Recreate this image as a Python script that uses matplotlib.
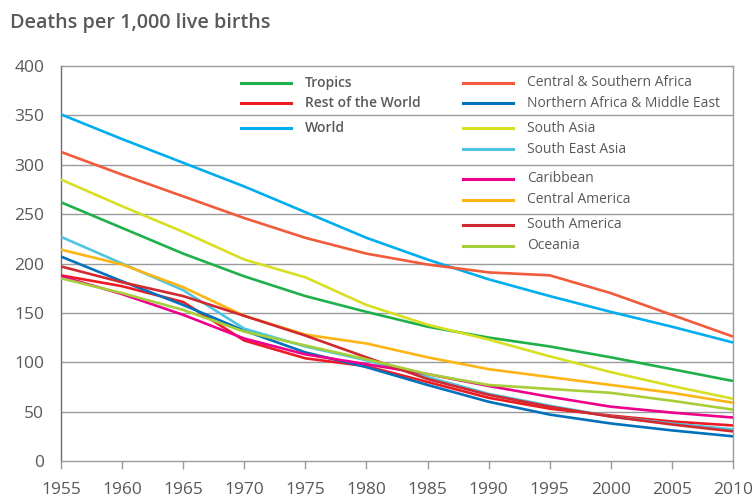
import numpy as np
import matplotlib.pyplot as plt
from matplotlib.lines import Line2D

# 5-year points (deaths per 1,000 live births)
years = [1955, 1960, 1965, 1970, 1975, 1980, 1985, 1990, 1995, 2000, 2005, 2010]

tropics = [262, 236, 210, 187, 167, 151, 136, 125, 116, 105, 93, 81]
rest_of_world = [188, 177, 161, 122, 104, 96, 80, 64, 53, 46, 40, 36]
world = [351, 326, 302, 278, 252, 226, 204, 184, 167, 151, 136, 120]
cs_africa = [313, 290, 268, 246, 226, 210, 199, 191, 188, 170, 148, 126]
na_middle_east = [207, 182, 158, 132, 110, 95, 77, 60, 47, 38, 31, 25]
south_asia = [285, 258, 232, 204, 186, 158, 138, 123, 106, 90, 76, 63]
south_east_asia = [227, 200, 173, 134, 116, 102, 85, 68, 56, 45, 38, 32]
caribbean = [187, 169, 148, 124, 108, 98, 88, 76, 65, 55, 49, 44]
central_america = [214, 199, 176, 147, 128, 119, 105, 93, 85, 77, 69, 59]
south_america = [197, 181, 167, 147, 127, 105, 83, 67, 55, 45, 37, 30]
oceania = [185, 170, 153, 131, 117, 103, 88, 77, 73, 69, 61, 52]

series = [
    ("Tropics", tropics, "#1fb04b", True),
    ("Rest of the World", rest_of_world, "#ed1c24", True),
    ("World", world, "#00aeef", True),
    ("Central & Southern Africa", cs_africa, "#f15a3a", False),
    ("Northern Africa & Middle East", na_middle_east, "#0072bc", False),
    ("South Asia", south_asia, "#d7df23", False),
    ("South East Asia", south_east_asia, "#4ec4e0", False),
    ("Caribbean", caribbean, "#ec008c", False),
    ("Central America", central_america, "#fdb515", False),
    ("South America", south_america, "#d02a30", False),
    ("Oceania", oceania, "#a6ce39", False),
]

text_col = "#58595b"
grid_col = "#9a9a9a"

plt.rcParams["font.family"] = ["Open Sans", "DejaVu Sans"]

W, H = 755, 497
fig = plt.figure(figsize=(W / 100, H / 100), dpi=100)
ax = fig.add_axes([61 / W, 1 - 461 / H, (733 - 61) / W, (461 - 66) / H])

for name, vals, col, _ in series:
    ax.plot(years, vals, color=col, lw=1.9, solid_joinstyle="round",
            solid_capstyle="butt", zorder=3)

ax.set_xlim(1955, 2010)
ax.set_ylim(0, 400)
ax.set_xticks(range(1955, 2011, 5))
ax.set_yticks(range(0, 401, 50))

for v in range(50, 400, 50):
    ax.axhline(v, color=grid_col, lw=1, zorder=1)

for s in ["top", "right", "bottom"]:
    ax.spines[s].set_color(grid_col)
    ax.spines[s].set_linewidth(1)
ax.spines["left"].set_color("#6d6e70")
ax.spines["left"].set_linewidth(1)

ax.tick_params(axis="y", length=0, pad=12, labelsize=12.5, labelcolor=text_col)
ax.tick_params(axis="x", direction="out", length=6, width=1, color=grid_col,
               pad=9, labelsize=12.5, labelcolor=text_col)

fig.text(10 / W, 1 - 23 / H, "Deaths per 1,000 live births", fontsize=14.2,
         color=text_col, fontweight="semibold", va="center", ha="left")

# legend, laid out by hand: left column bold, right column grouped
left_rows = [82.7, 103.3, 128.3]
right_rows = [82.7, 103.3, 128.3, 149.0, 179.0, 199.7, 225.0, 245.7]
li, ri = 0, 0
for name, vals, col, bold in series:
    if bold:
        y = left_rows[li]; li += 1
        x0, x1, xt = 241, 291, 305
    else:
        y = right_rows[ri]; ri += 1
        x0, x1, xt = 463, 513, 527
    fy = 1 - y / H
    fig.add_artist(Line2D([x0 / W, x1 / W], [fy, fy], color=col, lw=2.2,
                          transform=fig.transFigure))
    fig.text(xt / W, fy, name, fontsize=10, color=text_col, va="center",
             ha="left", fontweight="semibold" if bold else "normal")

fig.savefig("out.png", dpi=100)
